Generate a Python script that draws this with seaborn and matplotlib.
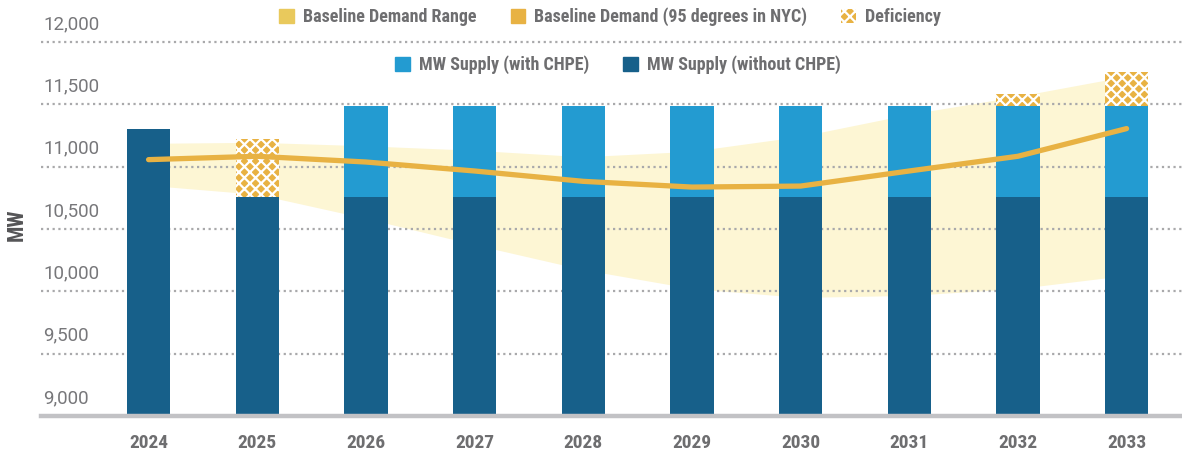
import numpy as np
import pandas as pd
import matplotlib
matplotlib.use('Agg')
import matplotlib.pyplot as plt
import matplotlib.patches as mpatches
from matplotlib import font_manager
import seaborn as sns

# ── Data ──
YEARS = ['2024', '2025', '2026', '2027', '2028', '2029', '2030', '2031', '2032', '2033']
SUPPLY_WITHOUT = [11300, 10760, 10760, 10760, 10760, 10760, 10760, 10760, 10760, 10760]
SUPPLY_WITH = [np.nan, np.nan, 11490, 11490, 11490, 11490, 11490, 11490, 11490, 11490]
DEFICIENCY_TOP = [np.nan, 11220, np.nan, np.nan, np.nan, np.nan, np.nan, np.nan, 11580, 11760]
DEMAND = [11056, 11083, 11037, 10965, 10882, 10836, 10844, 10965, 11083, 11305]
RANGE_LOW = [10850, 10778, 10585, 10374, 10174, 10022, 9951, 9967, 10022, 10128]
RANGE_HIGH = [11187, 11195, 11167, 11131, 11079, 11123, 11243, 11420, 11564, 11725]
Y_TICKS = [9000, 9500, 10000, 10500, 11000, 11500, 12000]

# ── Style ──
DARK_BLUE = '#17608A'
LIGHT_BLUE = '#239BD1'
ORANGE = '#E8B243'
RANGE_SWATCH = '#E9C95C'
BAND = '#FDF6D4'
TEXT_GRAY = '#6E6E70'

sns.set_theme(style='white')
available = {f.name for f in font_manager.fontManager.ttflist}
COND = next((f for f in ['Roboto Condensed', 'Liberation Sans Narrow', 'DejaVu Sans Condensed', 'Roboto']
             if f in available), 'DejaVu Sans')
plt.rcParams['font.family'] = ['Roboto', 'DejaVu Sans']
plt.rcParams['hatch.linewidth'] = 1.6

df = pd.DataFrame({
    'year': YEARS, 'without': SUPPLY_WITHOUT, 'with': SUPPLY_WITH,
    'deficiency': DEFICIENCY_TOP, 'demand': DEMAND,
    'low': RANGE_LOW, 'high': RANGE_HIGH,
})
xpos = np.arange(len(YEARS))

fig = plt.figure(figsize=(11.82, 4.53), dpi=100)
ax = fig.add_axes([41 / 1182, 37 / 453, 1141 / 1182, 399 / 453])

# demand range band
ax.fill_between(xpos, df['low'], df['high'], color=BAND, lw=0, zorder=1)

# bars: deficiency (hatched) underneath, then supply layers on top
sns.barplot(data=df, x='year', y='deficiency', color=ORANGE, width=0.4,
            hatch='xxx', edgecolor='white', linewidth=0, saturation=1,
            ax=ax, zorder=2)
sns.barplot(data=df, x='year', y='with', color=LIGHT_BLUE, width=0.4,
            linewidth=0, saturation=1, ax=ax, zorder=2)
sns.barplot(data=df, x='year', y='without', color=DARK_BLUE, width=0.4,
            linewidth=0, saturation=1, ax=ax, zorder=2)

# baseline demand line
sns.lineplot(x=xpos, y=df['demand'], color=ORANGE, lw=3.8, ax=ax, zorder=4,
             solid_capstyle='round')

ax.set_xlim(-0.99, 9.51)
ax.set_ylim(9000, 12200)

# grid
ax.set_yticks(Y_TICKS)
ax.set_yticklabels([])
ax.set_axisbelow('line')
ax.yaxis.grid(True, color='#A9A9AB', linestyle=(0, (1, 1.6)), linewidth=1.6)
ax.xaxis.grid(False)
for s in ['top', 'right', 'left']:
    ax.spines[s].set_visible(False)
ax.spines['bottom'].set_color('#C2C2C5')
ax.spines['bottom'].set_linewidth(3.2)
ax.spines['bottom'].set_zorder(5)
ax.tick_params(axis='y', length=0)
ax.tick_params(axis='x', length=0, pad=13)

# y labels sit above the gridlines, left-aligned
for v in Y_TICKS:
    ax.annotate(f'{v:,}', xy=(0, v), xycoords=('axes fraction', 'data'),
                xytext=(2, 9), textcoords='offset pixels', ha='left', va='bottom',
                fontsize=13.5, color='#77777A', annotation_clip=False)

for lab in ax.get_xticklabels():
    lab.set_fontsize(14)
    lab.set_fontweight('bold')
    lab.set_color(TEXT_GRAY)
    lab.set_family([COND, 'Roboto'])

ax.set_xlabel('')
ax.set_ylabel('MW', fontsize=15.5, fontweight='bold', color='#555557',
              family=[COND, 'Roboto'], va='center')
ax.yaxis.set_label_coords(-0.021, 0.48)

# legends
leg_font = {'family': [COND, 'Roboto'], 'weight': 'bold', 'size': 13}
row1 = [
    mpatches.Patch(color=RANGE_SWATCH, label='Baseline Demand Range'),
    mpatches.Patch(color=ORANGE, label='Baseline Demand (95 degrees in NYC)'),
    mpatches.Patch(facecolor=ORANGE, edgecolor='white', hatch='xxx', lw=0, label='Deficiency'),
]
row2 = [
    mpatches.Patch(color=LIGHT_BLUE, label='MW Supply (with CHPE)'),
    mpatches.Patch(color=DARK_BLUE, label='MW Supply (without CHPE)'),
]
common = dict(frameon=False, prop=leg_font, handlelength=0.8, handleheight=0.8,
              handletextpad=0.5, columnspacing=1.9, labelcolor=TEXT_GRAY,
              loc='center', bbox_transform=fig.transFigure, borderaxespad=0)
leg1 = fig.legend(handles=row1, ncol=3, bbox_to_anchor=(610 / 1182, 1 - 17 / 453), **common)
leg2 = fig.legend(handles=row2, ncol=2, bbox_to_anchor=(618 / 1182, 1 - 65 / 453), **common)

fig.savefig('out.png', dpi=100)
